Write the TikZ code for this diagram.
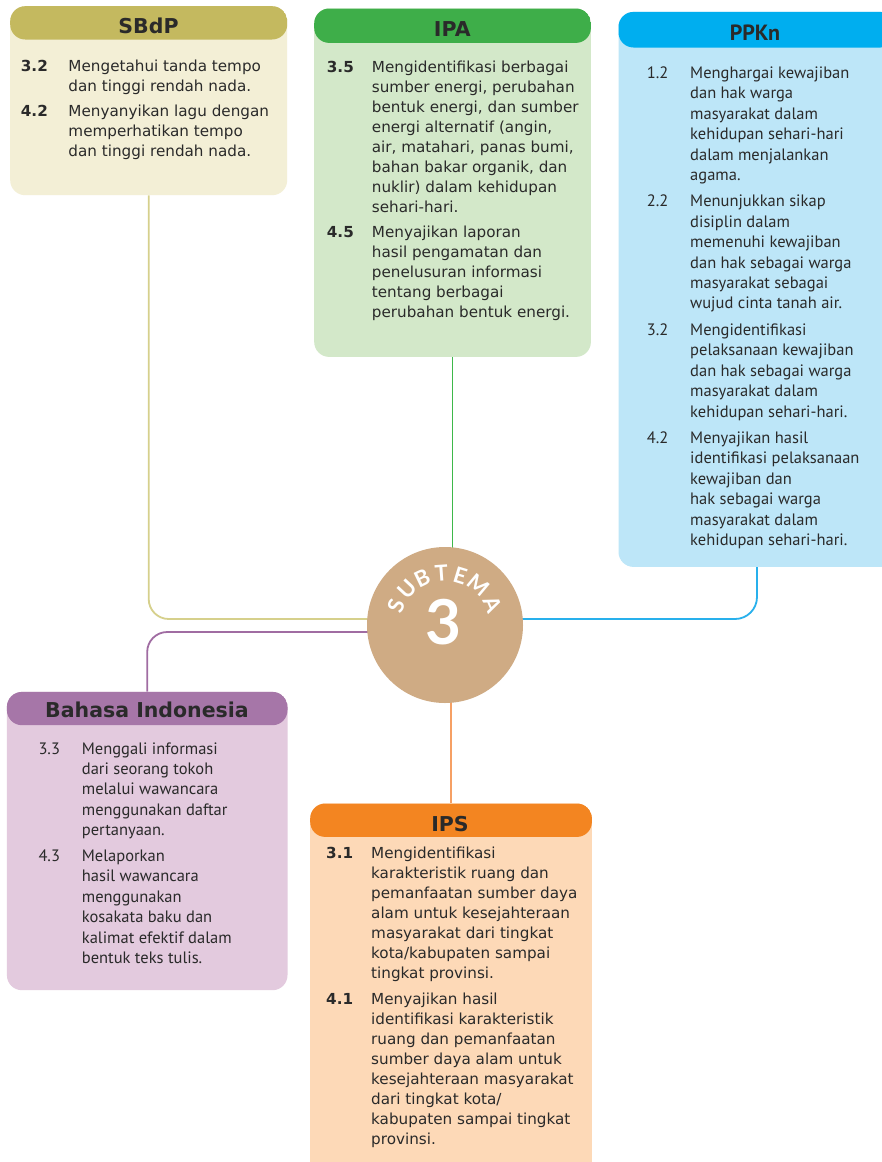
\documentclass[tikz,border=0pt]{standalone}
\usepackage{fontspec}
\usepackage{array}
\setmainfont{DejaVu Sans}
\newfontfamily\rfont{DejaVu Sans}
\newfontfamily\mfont{PT Sans}
\newfontfamily\lfont{Lato}
\usetikzlibrary{backgrounds}
\definecolor{sbdpH}{HTML}{C4B95F}
\definecolor{sbdpB}{HTML}{F3EFD6}
\definecolor{sbdpL}{HTML}{D6D08C}
\definecolor{ipaH}{HTML}{3EAE49}
\definecolor{ipaB}{HTML}{D3E8C9}
\definecolor{ipaL}{HTML}{3EB84A}
\definecolor{ppkH}{HTML}{00AEEF}
\definecolor{ppkB}{HTML}{BDE6F8}
\definecolor{ppkL}{HTML}{28B0EC}
\definecolor{bhsH}{HTML}{A676A8}
\definecolor{bhsB}{HTML}{E3CADE}
\definecolor{bhsL}{HTML}{A06CA2}
\definecolor{ipsH}{HTML}{F38521}
\definecolor{ipsB}{HTML}{FDD9B7}
\definecolor{ipsL}{HTML}{F6A064}
\definecolor{circ}{HTML}{CFAB84}
\definecolor{txt}{HTML}{2A2A2A}
\tikzset{
  subjbox/.style n args={3}{rectangle, rounded corners=15pt, fill=#2, inner sep=0pt,
    anchor=north west,
    path picture={\fill[#1] (path picture bounding box.north west) rectangle
      ([yshift=-#3]path picture bounding box.north east);}},
  hdrR/.style={anchor=base, inner sep=0pt, text=txt,
    font={\rfont\bfseries\fontsize{20.5}{24}\selectfont}},
  hdrM/.style={anchor=base, inner sep=0pt, text=txt,
    font={\mfont\bfseries\fontsize{22}{26}\selectfont}},
  bodyR/.style={anchor=north west, inner sep=0pt, text=txt,
    font={\rfont\fontsize{15.2}{19.9}\selectfont}},
  bodyM/.style={anchor=north west, inner sep=0pt, text=txt,
    font={\mfont\fontsize{16.5}{20.4}\selectfont}},
  conn/.style={line width=1.8pt, draw=#1},
  subletter/.style={text=white, inner sep=0pt,
    font={\lfont\bfseries\fontsize{22}{24}\selectfont}},
}
\begin{document}
\begin{tikzpicture}[x=1pt,y=-1pt]
\useasboundingbox (0,0) rectangle (881,1162);

% boxes
\node[subjbox={sbdpH}{sbdpB}{33.3pt}, minimum width=277pt, minimum height=189pt] (sbdp) at (10,6) {};
\node[subjbox={ipaH}{ipaB}{34.4pt}, minimum width=276.7pt, minimum height=348.4pt] (ipa) at (314,8.3) {};
\node[subjbox={ppkH}{ppkB}{35.6pt}, minimum width=277pt, minimum height=555pt] (ppkn) at (618.3,11.7) {};
\node[subjbox={bhsH}{bhsB}{33.3pt}, minimum width=280.6pt, minimum height=298.3pt] (bi) at (6.7,691.7) {};
\node[subjbox={ipsH}{ipsB}{33.4pt}, minimum width=281.7pt, minimum height=375pt] (ips) at (310,803.3) {};

% titles
\node[hdrR] (sbdp-t) at (148.5,33.6) {SBdP};
\node[hdrR] (ipa-t) at (452.3,36.2) {IPA};
\node[hdrM] (ppkn-t) at (755,40.2) {PPKn};
\node[hdrR] (bi-t) at (147,717.6) {Bahasa Indonesia};
\node[hdrR] (ips-t) at (450,831) {IPS};

% bodies
\node[bodyR] (sbdp-b) at (20.7,57.1) {%
\begin{tabular}{@{}>{\bfseries}p{47.6pt}@{}l@{}}
3.2 & Mengetahui tanda tempo\\
    & dan tinggi rendah nada.\\[5.8pt]
4.2 & Menyanyikan lagu dengan\\
    & memperhatikan tempo\\
    & dan tinggi rendah nada.
\end{tabular}};

\node[bodyR] (ipa-b) at (326.7,58.8) {%
\begin{tabular}{@{}>{\bfseries}p{45pt}@{}l@{}}
3.5 & Mengidentifikasi berbagai\\
    & sumber energi, perubahan\\
    & bentuk energi, dan sumber\\
    & energi alternatif (angin,\\
    & air, matahari, panas bumi,\\
    & bahan bakar organik, dan\\
    & nuklir) dalam kehidupan\\
    & sehari-hari.\\[5.8pt]
4.5 & Menyajikan laporan\\
    & hasil pengamatan dan\\
    & penelusuran informasi\\
    & tentang berbagai\\
    & perubahan bentuk energi.
\end{tabular}};

\node[bodyM] (ppkn-b) at (646.7,64.0) {%
\begin{tabular}{@{}p{43.3pt}@{}l@{}}
1.2 & Menghargai kewajiban\\
    & dan hak warga\\
    & masyarakat dalam\\
    & kehidupan sehari-hari\\
    & dalam menjalankan\\
    & agama.\\[6.1pt]
2.2 & Menunjukkan sikap\\
    & disiplin dalam\\
    & memenuhi kewajiban\\
    & dan hak sebagai warga\\
    & masyarakat sebagai\\
    & wujud cinta tanah air.\\[6.1pt]
3.2 & Mengidentifikasi\\
    & pelaksanaan kewajiban\\
    & dan hak sebagai warga\\
    & masyarakat dalam\\
    & kehidupan sehari-hari.\\[6.1pt]
4.2 & Menyajikan hasil\\
    & identifikasi pelaksanaan\\
    & kewajiban dan\\
    & hak sebagai warga\\
    & masyarakat dalam\\
    & kehidupan sehari-hari.
\end{tabular}};

\node[bodyM] (bi-b) at (38.3,739.7) {%
\begin{tabular}{@{}p{43.4pt}@{}l@{}}
3.3 & Menggali informasi\\
    & dari seorang tokoh\\
    & melalui wawancara\\
    & menggunakan daftar\\
    & pertanyaan.\\[5.3pt]
4.3 & Melaporkan\\
    & hasil wawancara\\
    & menggunakan\\
    & kosakata baku dan\\
    & kalimat efektif dalam\\
    & bentuk teks tulis.
\end{tabular}};

\node[bodyR, font={\rfont\fontsize{15.2}{20}\selectfont}] (ips-b) at (326,844.3) {%
\begin{tabular}{@{}>{\bfseries}p{45pt}@{}l@{}}
3.1 & Mengidentifikasi\\
    & karakteristik ruang dan\\
    & pemanfaatan sumber daya\\
    & alam untuk kesejahteraan\\
    & masyarakat dari tingkat\\
    & kota/kabupaten sampai\\
    & tingkat provinsi.\\[6pt]
4.1 & Menyajikan hasil\\
    & identifikasi karakteristik\\
    & ruang dan pemanfaatan\\
    & sumber daya alam untuk\\
    & kesejahteraan masyarakat\\
    & dari tingkat kota/\\
    & kabupaten sampai tingkat\\
    & provinsi.
\end{tabular}};

% centre circle
\node[circle, fill=circ, minimum size=156pt, inner sep=0pt] (c) at (445,625) {};
\foreach \ch/\ang [count=\i] in {S/158,U/137,B/116,T/94,E/73,M/50,A/23}
  \node[subletter, rotate=\ang-90] (s\i) at ([shift={(\ang:52pt)}]c.center) {\ch};
\node[text=white, inner sep=0pt, font={\lfont\bfseries\fontsize{62}{62}\selectfont}] (num) at (443,622) {3};

% connectors
\begin{pgfonlayer}{background}
\fill[white] (0,0) rectangle (881,1162);
\draw[conn=sbdpL, rounded corners=20pt] (sbdp.south) |- ([yshift=6pt]c.center);
\draw[conn=bhsL, rounded corners=20pt] (bi.north) |- ([yshift=-7pt]c.center);
\draw[conn=ipaL] (ipa.south) -- (ipa.south |- c.center);
\draw[conn=ppkL, rounded corners=22pt] (ppkn.south) |- ([yshift=6pt]c.center);
\draw[conn=ipsL] (ips.north) -- (ips.north |- c.center);
\end{pgfonlayer}
\end{tikzpicture}
\end{document}
